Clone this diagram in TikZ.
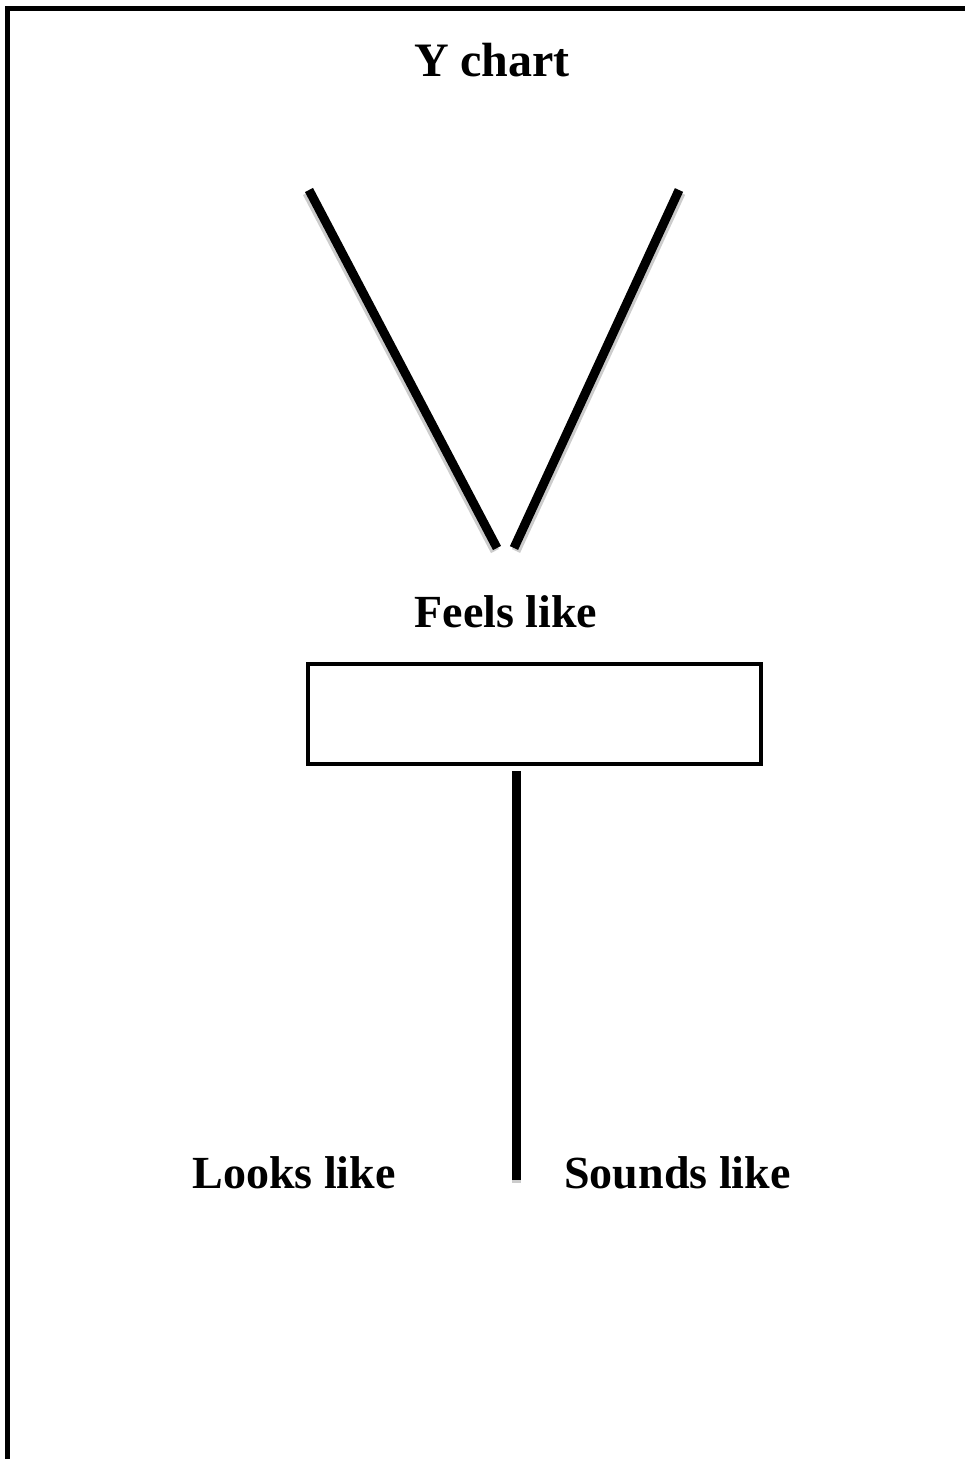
\documentclass[tikz,border=0pt]{standalone}
\usepackage{fontspec}
\setmainfont{Liberation Serif}
\begin{document}
\begin{tikzpicture}[x=1pt,y=-1pt,
  lbl/.style={font=\bfseries\fontsize{46}{50}\selectfont, anchor=base, inner sep=0pt},
  ttl/.style={font=\bfseries\fontsize{48}{52}\selectfont, anchor=base, inner sep=0pt},
  arm/.style={line width=9pt, black},
  shadow/.style={line width=9pt, black!20},
  boxline/.style={line width=4pt, black}]
\useasboundingbox (0,0) rectangle (965,1459);
% page border (open to right and bottom)
\draw[line width=5pt] (7.5,1480) -- (7.5,8.5) -- (990,8.5);
% title and labels
\node[ttl] (title) at (492,76) {Y chart};
\node[lbl] (feels) at (506,627) {Feels like};
\node[lbl] (looks) at (294,1188) {Looks like};
\node[lbl] (sounds) at (677.5,1188) {Sounds like};
% coordinates of the Y arms
\coordinate (lt) at (309,190);
\coordinate (lb) at (497,548);
\coordinate (rt) at (679,190);
\coordinate (rb) at (514,548);
\coordinate (vt) at (516,771);
\coordinate (vb) at (516,1180);
% shadows
\draw[shadow] ([shift={(-2,3)}]lt) -- ([shift={(-2,3)}]lb);
\draw[shadow] ([shift={(2,3)}]rt) -- ([shift={(2,3)}]rb);
\draw[line width=9pt, black!20] ([shift={(0,3)}]vt) -- ([shift={(0,3)}]vb);
% arms
\draw[arm] (lt) -- (lb);
\draw[arm] (rt) -- (rb);
% box
\node[draw, boxline, minimum width=453pt, minimum height=100pt, inner sep=0pt] (box) at (534.5,714) {};
% stem
\draw[line width=9pt] (vt) -- (vb);
\end{tikzpicture}
\end{document}
